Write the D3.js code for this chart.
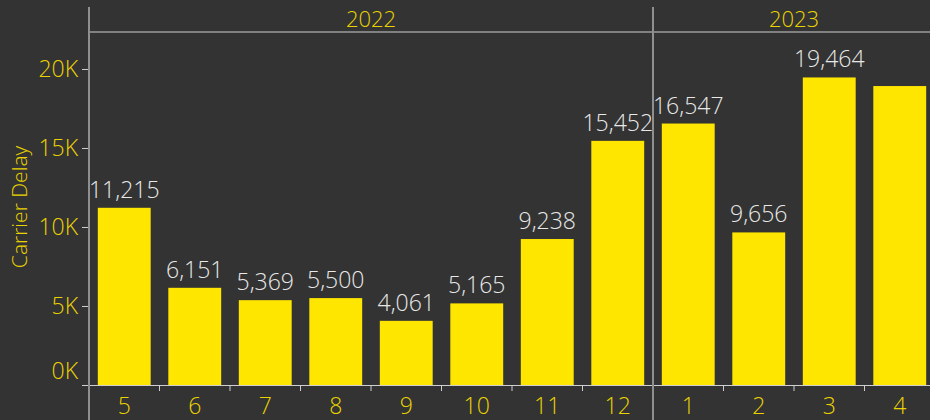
<!DOCTYPE html>
<html>
<head>
<meta charset="utf-8">
<script src="https://cdn.jsdelivr.net/npm/d3@7"></script>
<style>
    html, body { margin: 0; padding: 0; background: #333333; }
    svg { display: block; }
    text { font-family: "Open Sans", "Noto Sans", sans-serif; font-weight: 350; }
</style>
</head>
<body>
<svg id="chart" width="930" height="420"></svg>
<script>
// data
var years = [2022, 2022, 2022, 2022, 2022, 2022, 2022, 2022, 2023, 2023, 2023, 2023];
var months = [5, 6, 7, 8, 9, 10, 11, 12, 1, 2, 3, 4];
var carrierDelay = [11215, 6151, 5369, 5500, 4061, 5165, 9238, 15452, 16547, 9656, 19464, 18920];
var showLabel = [true, true, true, true, true, true, true, true, true, true, true, false];
var yTicks = [0, 5000, 10000, 15000, 20000];

var W = 930, H = 420;
var plotLeft = 89, plotRight = 935; // last panel runs a little past the window
var plotTop = 32, plotBase = 385;
var barColor = "#ffe600",
    textYellow = "#ebd300",
    labelColor = "#e8e8e8",
    axisGray = "#8f8f8f",
    lineLight = "#cfcfcf";
var fontSize = 23;

var svg = d3.select("#chart");

var idx = d3.range(months.length);
var x = d3.scaleBand().domain(idx).range([plotLeft, plotRight])
    .paddingInner(0.25).paddingOuter(0.125);
var step = x.step();
var slotStart = i => x(i) - step * 0.125;

var y = d3.scaleLinear().domain([0, 22340]).range([plotBase, plotTop]);

// bars
svg.selectAll(".bar")
    .data(idx)
    .join("rect")
    .attr("class", "bar")
    .attr("x", i => x(i))
    .attr("width", x.bandwidth())
    .attr("y", i => y(carrierDelay[i]))
    .attr("height", i => y(0) - y(carrierDelay[i]))
    .attr("fill", barColor);

// value labels
svg.selectAll(".lbl")
    .data(idx.filter(i => showLabel[i]))
    .join("text")
    .attr("class", "lbl")
    .attr("x", i => x(i) + x.bandwidth() / 2)
    .attr("y", i => y(carrierDelay[i]) - 10)
    .attr("text-anchor", "middle")
    .attr("font-size", fontSize)
    .attr("fill", labelColor)
    .text(i => d3.format(",")(carrierDelay[i]));

// baseline and header line
svg.append("line")
    .attr("x1", plotLeft).attr("x2", W).attr("y1", plotBase + 0.5).attr("y2", plotBase + 0.5)
    .attr("stroke", lineLight).attr("stroke-width", 1.2);
svg.append("line")
    .attr("x1", plotLeft).attr("x2", W).attr("y1", plotTop).attr("y2", plotTop)
    .attr("stroke", lineLight).attr("stroke-width", 1.2);

// x tick marks between months
svg.selectAll(".xtick")
    .data(idx.slice(1).filter(i => years[i] === years[i - 1]))
    .join("line")
    .attr("class", "xtick")
    .attr("x1", i => slotStart(i)).attr("x2", i => slotStart(i))
    .attr("y1", plotBase).attr("y2", plotBase + 6)
    .attr("stroke", lineLight);

// month labels
svg.selectAll(".xlab")
    .data(idx)
    .join("text")
    .attr("class", "xlab")
    .attr("x", i => x(i) + x.bandwidth() / 2)
    .attr("y", 414)
    .attr("text-anchor", "middle")
    .attr("font-size", fontSize)
    .attr("fill", textYellow)
    .text(i => months[i]);

// year panels
var yearList = Array.from(new Set(years));
yearList.forEach(function (yr) {
    let ii = idx.filter(i => years[i] === yr);
    let x0 = slotStart(ii[0]), x1 = slotStart(ii[ii.length - 1]) + step;
    svg.append("text")
        .attr("x", (x0 + x1) / 2)
        .attr("y", 27)
        .attr("text-anchor", "middle")
        .attr("font-size", 22)
        .attr("fill", textYellow)
        .text(yr);
    // panel borders
    svg.append("line")
        .attr("x1", x0).attr("x2", x0).attr("y1", 7).attr("y2", H)
        .attr("stroke", axisGray).attr("stroke-width", 2);
});

// y axis
var yAxis = d3.axisLeft(y)
    .tickValues(yTicks)
    .tickSize(6)
    .tickPadding(4)
    .tickFormat(d => d3.format(".0f")(d / 1000) + "K");
var gy = svg.append("g")
    .attr("transform", "translate(" + (plotLeft - 1) + ",0)")
    .call(yAxis);
gy.select(".domain").remove();
gy.selectAll(".tick line").attr("stroke", lineLight);
gy.selectAll(".tick text")
    .attr("fill", textYellow)
    .attr("font-size", fontSize)
    .attr("font-family", "Open Sans, Noto Sans, sans-serif");
// the 0K label sits above the baseline, like in the original
gy.selectAll(".tick text").filter(d => d === 0).attr("dy", "-0.3em");

// y title
svg.append("text")
    .attr("transform", "translate(27,207) rotate(-90)")
    .attr("text-anchor", "middle")
    .attr("font-size", 21)
    .attr("fill", textYellow)
    .text("Carrier Delay");
</script>
</body>
</html>
